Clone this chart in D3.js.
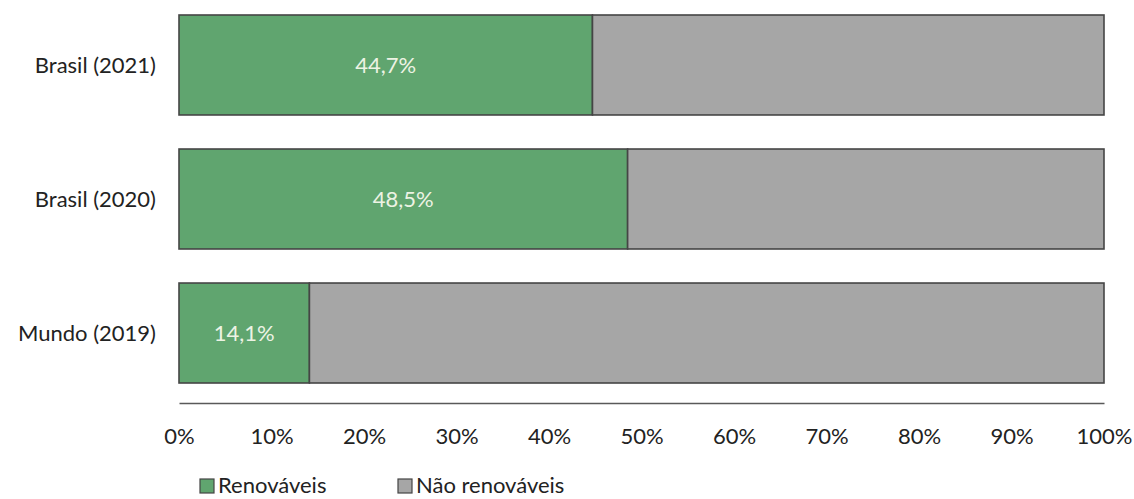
<!DOCTYPE html>
<html>
<head>
<meta charset="utf-8">
<script src="https://cdn.jsdelivr.net/npm/d3@7"></script>
<style>
  html, body { margin: 0; padding: 0; background: #fff; overflow: hidden; }
  svg { display: block; font-family: Lato, "Open Sans", sans-serif; }
</style>
</head>
<body>
<svg id="chart" width="1134" height="499"></svg>
<script>
// Share of renewable sources in the energy matrix
const categories = ["Brasil (2021)", "Brasil (2020)", "Mundo (2019)"];
const renewable = [44.7, 48.5, 14.1];
const nonRenewable = renewable.map(v => 100 - v);
const seriesNames = ["Renováveis", "Não renováveis"];
const tickValues = [0, 10, 20, 30, 40, 50, 60, 70, 80, 90, 100];
const colors = ["#60a56f", "#a6a6a6"];

const svg = d3.select("#chart");
const x = d3.scaleLinear().domain([0, 100]).range([179, 1104]);
const y = d3.scaleBand().domain(categories).range([15, 383]).paddingInner(0.254).paddingOuter(0);

const rows = categories.map((c, i) => ({ cat: c, parts: [
  { key: 0, x0: 0, x1: renewable[i], v: renewable[i] },
  { key: 1, x0: renewable[i], x1: renewable[i] + nonRenewable[i], v: nonRenewable[i] }
]}));

const g = svg.append("g");
rows.forEach(r => {
  r.parts.forEach(p => {
    g.append("rect")
      .attr("x", x(p.x0))
      .attr("y", y(r.cat))
      .attr("width", x(p.x1) - x(p.x0))
      .attr("height", y.bandwidth())
      .attr("fill", colors[p.key])
      .attr("stroke", "#454545")
      .attr("stroke-width", 1.6);
  });
  const p = r.parts[0];
  g.append("text")
    .attr("x", (x(p.x0) + x(p.x1)) / 2)
    .attr("y", y(r.cat) + y.bandwidth() / 2)
    .attr("dy", "0.36em")
    .attr("text-anchor", "middle")
    .attr("fill", "#edf3e4")
    .attr("font-size", 22)
    .text(p.v.toFixed(1).replace(".", ",") + "%");
});

// Category labels
svg.append("g").selectAll("text").data(categories).join("text")
  .attr("x", 156)
  .attr("y", d => y(d) + y.bandwidth() / 2)
  .attr("dy", "0.36em")
  .attr("text-anchor", "end")
  .attr("font-size", 22)
  .attr("fill", "#222")
  .text(d => d);

// Bottom axis
const axis = d3.axisBottom(x).tickValues(tickValues).tickSize(0).tickPadding(25)
  .tickFormat(d => d + "%");
const ax = svg.append("g").attr("transform", "translate(0,403)").call(axis);
ax.select(".domain").attr("stroke", "#595959").attr("stroke-width", 1.6);
ax.selectAll("text").attr("font-size", 22).attr("fill", "#222")
  .attr("font-family", "Lato, 'Open Sans', sans-serif");

// Legend
const legendX = [200, 398];
const lg = svg.append("g");
seriesNames.forEach((s, i) => {
  lg.append("rect")
    .attr("x", legendX[i]).attr("y", 479)
    .attr("width", 14).attr("height", 14)
    .attr("fill", colors[i]).attr("stroke", "#454545").attr("stroke-width", 1.2);
  lg.append("text")
    .attr("x", legendX[i] + 18).attr("y", 493)
    .attr("font-size", 22).attr("fill", "#222")
    .text(s);
});
</script>
</body>
</html>
